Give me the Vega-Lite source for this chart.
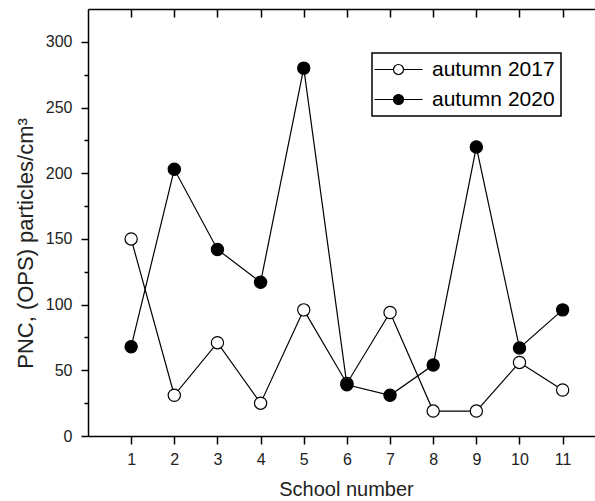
{
  "$schema": "https://vega.github.io/schema/vega-lite/v6.json",
  "width": 507,
  "height": 427,
  "autosize": {"type": "none"},
  "padding": {"left": 88, "top": 9, "right": 0, "bottom": 65},
  "background": "white",
  "config": {
    "view": {"stroke": null},
    "font": "Liberation Sans",
    "axis": {
      "grid": false,
      "domainColor": "black",
      "domainWidth": 1.5,
      "tickColor": "black",
      "tickWidth": 1.5,
      "labelFont": "Liberation Sans",
      "labelFontSize": 16,
      "labelColor": "#222",
      "titleFont": "Liberation Sans",
      "titleFontWeight": "normal",
      "titleColor": "#222"
    }
  },
  "data": {
    "values": [
      {"school": 1, "series": "autumn 2017", "pnc": 150},
      {"school": 2, "series": "autumn 2017", "pnc": 31},
      {"school": 3, "series": "autumn 2017", "pnc": 71},
      {"school": 4, "series": "autumn 2017", "pnc": 25},
      {"school": 5, "series": "autumn 2017", "pnc": 96},
      {"school": 6, "series": "autumn 2017", "pnc": 40},
      {"school": 7, "series": "autumn 2017", "pnc": 94},
      {"school": 8, "series": "autumn 2017", "pnc": 19},
      {"school": 9, "series": "autumn 2017", "pnc": 19},
      {"school": 10, "series": "autumn 2017", "pnc": 56},
      {"school": 11, "series": "autumn 2017", "pnc": 35},
      {"school": 1, "series": "autumn 2020", "pnc": 68},
      {"school": 2, "series": "autumn 2020", "pnc": 203},
      {"school": 3, "series": "autumn 2020", "pnc": 142},
      {"school": 4, "series": "autumn 2020", "pnc": 117},
      {"school": 5, "series": "autumn 2020", "pnc": 280},
      {"school": 6, "series": "autumn 2020", "pnc": 39},
      {"school": 7, "series": "autumn 2020", "pnc": 31},
      {"school": 8, "series": "autumn 2020", "pnc": 54},
      {"school": 9, "series": "autumn 2020", "pnc": 220},
      {"school": 10, "series": "autumn 2020", "pnc": 67},
      {"school": 11, "series": "autumn 2020", "pnc": 96}
    ]
  },
  "layer": [
    {
      "mark": {"type": "line", "color": "black", "strokeWidth": 1.2},
      "encoding": {
        "x": {
          "field": "school",
          "type": "quantitative",
          "scale": {"domain": [0, 11.75], "nice": false, "zero": false},
          "axis": {
            "orient": "bottom",
            "values": [1, 2, 3, 4, 5, 6, 7, 8, 9, 10, 11],
            "tickSize": 8,
            "labelPadding": 7,
            "title": "School number",
            "titleFontSize": 20,
            "titleX": 258,
            "titleY": 53,
            "titleBaseline": "middle"
          }
        },
        "y": {
          "field": "pnc",
          "type": "quantitative",
          "scale": {"domain": [0, 325], "nice": false},
          "axis": {
            "orient": "left",
            "values": [0, 50, 100, 150, 200, 250, 300],
            "tickSize": 7,
            "labelPadding": 9,
            "title": "PNC, (OPS) particles/cm³",
            "titleFontSize": 22,
            "titleX": -63,
            "titleY": 234,
            "titleAngle": -90,
            "titleBaseline": "middle"
          }
        },
        "detail": {"field": "series"}
      }
    },
    {
      "mark": {"type": "circle", "size": 150, "stroke": "black", "strokeWidth": 1.2, "opacity": 1},
      "encoding": {
        "x": {
          "field": "school",
          "type": "quantitative",
          "axis": {
            "orient": "top",
            "values": [1, 2, 3, 4, 5, 6, 7, 8, 9, 10, 11],
            "tickSize": -8,
            "labels": false,
            "title": null
          }
        },
        "y": {
          "field": "pnc",
          "type": "quantitative",
          "axis": {
            "orient": "left",
            "values": [25, 75, 125, 175, 225, 275],
            "tickSize": 4,
            "domain": false,
            "labels": false,
            "title": null
          }
        },
        "fill": {
          "field": "series",
          "type": "nominal",
          "scale": {"domain": ["autumn 2017", "autumn 2020"], "range": ["white", "black"]},
          "legend": {
            "orient": "none",
            "legendX": 284,
            "legendY": 44,
            "title": null,
            "padding": 6,
            "rowPadding": 8,
            "strokeColor": "black",
            "fillColor": "white",
            "symbolType": "M-2.8,0H1M3,0A1,1,0,1,1,1,0A1,1,0,1,1,3,0M3,0H6.8",
            "symbolSize": 100,
            "symbolStrokeColor": "black",
            "symbolStrokeWidth": 1.2,
            "symbolOpacity": 1,
            "labelFont": "Liberation Sans",
            "labelFontSize": 21,
            "labelColor": "black",
            "labelOffset": 33,
            "encode": {"legend": {"update": {"strokeWidth": {"value": 1.5}}}}
          }
        }
      }
    }
  ],
  "resolve": {"axis": {"x": "independent", "y": "independent"}}
}
